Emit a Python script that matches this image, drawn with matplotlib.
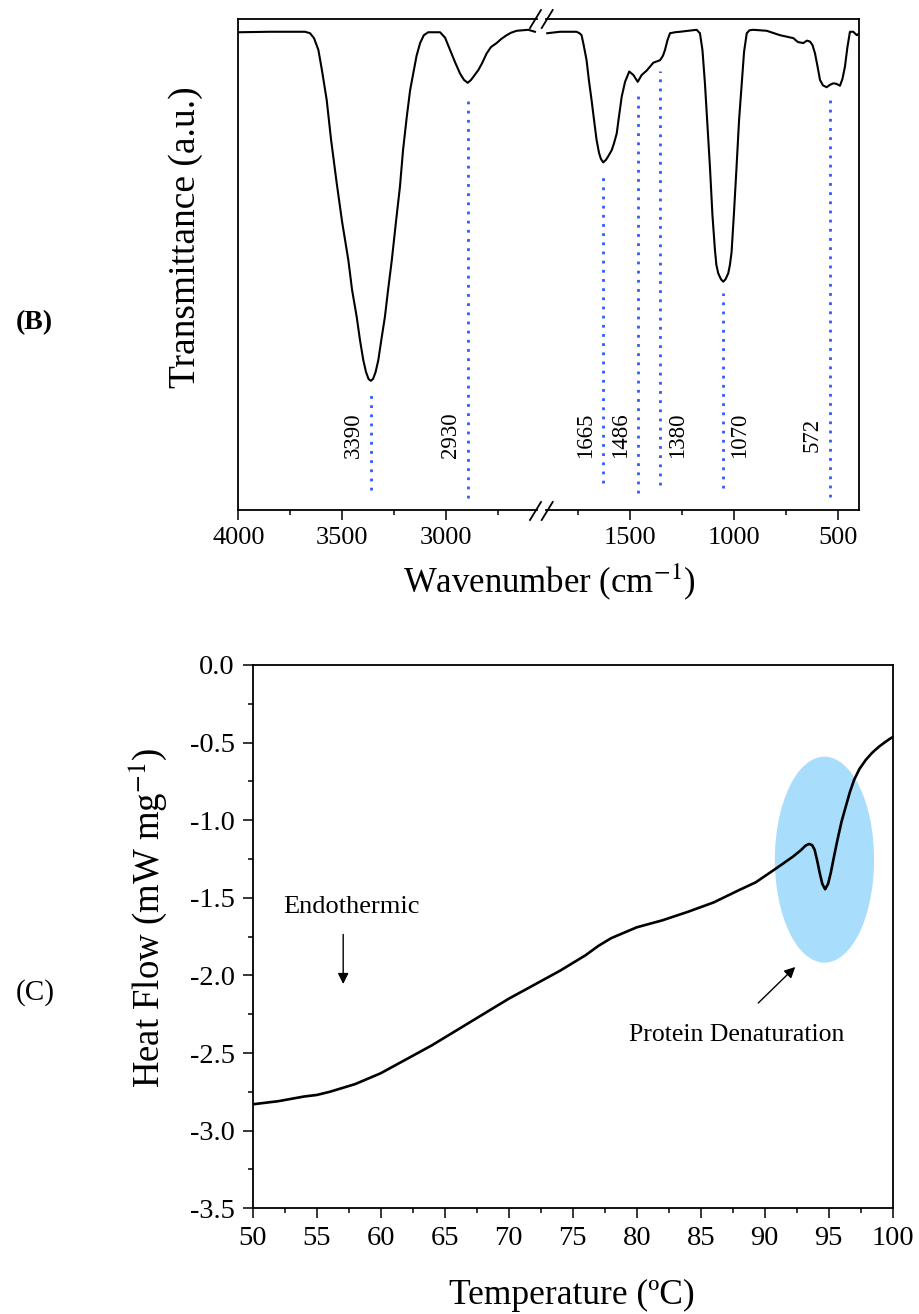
import matplotlib
matplotlib.use('Agg')
import matplotlib.pyplot as plt
from matplotlib.patches import Ellipse
from matplotlib.lines import Line2D
from matplotlib.ticker import MultipleLocator, FormatStrFormatter
import numpy as np

plt.rcParams['font.family'] = ['Liberation Serif', 'DejaVu Serif']
plt.rcParams['mathtext.fontset'] = 'stix'
plt.rcParams['axes.unicode_minus'] = False

# ---- FTIR spectrum (panel B) ----
wavenumber = [4000, 3848, 3703, 3679, 3655, 3636, 3615, 3598, 3575, 3554, 3527, 3501,
              3471, 3453, 3431, 3415, 3399, 3386, 3374, 3363, 3352, 3340, 3327, 3314,
              3295, 3280, 3262, 3242, 3223, 3208, 3190, 3174, 3159, 3143, 3126, 3108,
              3087, 3030, 3006, 2982, 2958, 2934, 2915, 2897, 2881, 2846, 2828, 2806,
              2785, 2758, 2737, 2710, 2689, 2662, 2606, 2574,
              1896, 1835, 1755, 1741, 1731, 1720, 1707, 1696, 1683, 1671, 1659, 1647,
              1638, 1627, 1614, 1602, 1586, 1575, 1562, 1551, 1538, 1522, 1502, 1482,
              1461, 1442, 1418, 1386, 1354, 1340, 1330, 1318, 1306, 1282, 1258, 1178,
              1162, 1150, 1138, 1126, 1114, 1102, 1090, 1083, 1074, 1061, 1050, 1039,
              1026, 1018, 1010, 999, 986, 974, 961, 950, 937, 924, 906, 841, 777, 713,
              691, 665, 648, 633, 621, 609, 597, 585, 571, 553, 537, 521, 506, 489, 477,
              465, 453, 441, 425, 408, 396]
transmittance = [97.3, 97.4, 97.4, 97.4, 97.1, 96.1, 93.7, 89.6, 83.5, 75.4, 66.6, 58.7,
                 50.9, 44.8, 39.4, 34.6, 30.5, 28.1, 26.7, 26.3, 26.7, 28.1, 30.5, 34.2,
                 39.4, 44.8, 50.9, 58.7, 65.8, 73.3, 80.1, 85.5, 88.9, 92.5, 95.1, 96.7,
                 97.3, 97.3, 96.2, 93.7, 91.2, 88.9, 87.6, 87.0, 87.6, 89.6, 91.0, 93.0,
                 94.3, 95.1, 95.9, 96.7, 97.2, 97.6, 97.8, 97.4,
                 97.1, 97.4, 97.4, 97.1, 96.7, 94.5, 91.6, 87.6, 83.5, 79.4, 75.4, 72.7,
                 71.5, 70.8, 71.3, 72.1, 73.3, 74.7, 76.7, 80.2, 84.2, 87.2, 89.3, 88.6,
                 87.2, 88.6, 89.5, 91.1, 91.6, 92.5, 93.7, 95.7, 97.1, 97.3, 97.4, 97.8,
                 97.1, 93.7, 86.9, 78.4, 69.9, 60.1, 53.0, 49.9, 48.2, 47.0, 46.5, 47.0,
                 48.2, 49.9, 52.5, 60.1, 69.9, 79.4, 86.9, 93.3, 97.1, 97.7, 97.8, 97.6,
                 96.7, 96.1, 95.3, 95.1, 95.6, 95.4, 94.7, 93.0, 90.4, 87.6, 86.5, 86.1,
                 86.6, 86.9, 86.8, 86.4, 87.8, 90.3, 94.3, 97.4, 97.4, 96.7, 97.1]

peak_labels = ['3390', '2930', '1665', '1486', '1380', '1070', '572']
peak_pos = [3363, 2897, 1627, 1461, 1354, 1053, 538]
peak_top = [23.4, 84.2, 68.9, 85.2, 89.4, 44.2, 84.5]
peak_bottom = [4.1, 2.4, 5.5, 3.5, 5.1, 4.5, 2.7]
label_side = [-1, -1, -1, -1, 1, 1, -1]

# ---- DSC curve (panel C) ----
temperature = [50, 52, 54, 55, 56, 58, 60, 62, 64, 66, 68, 70, 72, 74, 76, 77, 78, 80,
               82, 84, 86, 88, 89.3, 90.9, 92.2, 92.8, 93.2, 93.47, 93.7, 93.9, 94.1,
               94.3, 94.5, 94.72, 94.95, 95.16, 95.4, 95.68, 96.0, 96.33, 96.65, 96.98,
               97.4, 97.89, 98.4, 98.93, 99.4, 99.84, 100]
heat_flow = [-2.83, -2.81, -2.78, -2.77, -2.75, -2.70, -2.63, -2.54, -2.45, -2.35, -2.25,
             -2.15, -2.06, -1.97, -1.87, -1.81, -1.76, -1.69, -1.645, -1.59, -1.53, -1.45,
             -1.40, -1.31, -1.235, -1.195, -1.163, -1.153, -1.16, -1.19, -1.26, -1.34,
             -1.41, -1.445, -1.41, -1.34, -1.24, -1.128, -1.01, -0.913, -0.82, -0.741,
             -0.67, -0.612, -0.565, -0.526, -0.497, -0.472, -0.465]

W, H = 920, 1314
fig = plt.figure(figsize=(W / 100, H / 100), dpi=100)


def fx(px):
    return px / W


def fy(py):
    return 1 - py / H


wn = np.array(wavenumber)
tr = np.array(transmittance)

ax1 = fig.add_axes([fx(238.3), fy(510), fx(537) - fx(238.3), fy(19) - fy(510)])
ax2 = fig.add_axes([fx(546), fy(510), fx(859.3) - fx(546), fy(19) - fy(510)])

left = wn > 2200
ax1.plot(wn[left], tr[left], color='black', lw=1.5)
ax2.plot(wn[~left], tr[~left], color='black', lw=1.5)
ax1.set_xlim(4000, 2564)
ax2.set_xlim(1902, 396)

for ax in (ax1, ax2):
    ax.set_ylim(0, 100)
    ax.set_yticks([])
    ax.tick_params(axis='x', which='major', direction='out', length=7, width=1.1,
                   labelsize=19, pad=5)
    ax.tick_params(axis='x', which='minor', direction='out', length=3.5, width=1.1)
    ax.xaxis.set_major_locator(MultipleLocator(500))
    ax.xaxis.set_minor_locator(MultipleLocator(250))
    for s in ax.spines.values():
        s.set_linewidth(1.3)
ax1.spines['right'].set_visible(False)
ax2.spines['left'].set_visible(False)

for lab, pos, top, bot, side in zip(peak_labels, peak_pos, peak_top, peak_bottom, label_side):
    ax = ax1 if pos > 2200 else ax2
    ax.vlines(pos, bot, top, colors='#2e5cff', linestyles=(0, (1, 2.3)), lw=2)
    ax.annotate(lab, (pos, 15.3), xytext=(side * 12.5, 0), textcoords='offset points',
                rotation=90, ha='center', va='center', fontsize=16.5)

# axis break marks
for y0 in (28, 520):
    for x0 in (530, 541.7):
        fig.add_artist(Line2D([fx(x0), fx(x0 + 11)], [fy(y0), fy(y0 - 18)],
                              color='black', lw=1.3))

fig.text(fx(549), fy(582), 'Wavenumber (cm$^{-1}$)', ha='center', va='center', fontsize=25)
fig.text(fx(186), fy(237), 'Transmittance (a.u.)', ha='center', va='center',
         rotation=90, fontsize=27)
fig.text(fx(34.5), fy(323), '(B)', ha='center', va='center', fontsize=20, fontweight='bold')

# ---- panel C ----
ax3 = fig.add_axes([fx(252.7), fy(1208.3), fx(892.7) - fx(252.7), fy(665) - fy(1208.3)])
ax3.add_patch(Ellipse((94.67, -1.254), 7.75, 1.327, color='#a9ddfc', lw=0, zorder=1))
ax3.plot(temperature, heat_flow, color='black', lw=1.9, zorder=3)
ax3.set_xlim(50, 100)
ax3.set_ylim(-3.5, 0)
ax3.xaxis.set_major_locator(MultipleLocator(5))
ax3.xaxis.set_minor_locator(MultipleLocator(2.5))
ax3.yaxis.set_major_locator(MultipleLocator(0.5))
ax3.yaxis.set_minor_locator(MultipleLocator(0.25))
ax3.yaxis.set_major_formatter(FormatStrFormatter('%.1f'))
ax3.tick_params(which='major', direction='out', length=7, width=1.1, labelsize=20.5, pad=6)
ax3.tick_params(which='minor', direction='out', length=3.5, width=1.1)
for s in ax3.spines.values():
    s.set_linewidth(1.3)

ax3.text(57.72, -1.557, 'Endothermic', ha='center', va='center', fontsize=19)
ax3.annotate('', xy=(57.07, -2.073), xytext=(57.07, -1.718),
             arrowprops=dict(arrowstyle='-|>', color='black', lw=1, mutation_scale=16))
ax3.text(87.82, -2.384, 'Protein Denaturation', ha='center', va='center', fontsize=18.5)
ax3.annotate('', xy=(92.54, -1.933), xytext=(89.34, -2.19),
             arrowprops=dict(arrowstyle='-|>', color='black', lw=1, mutation_scale=16))

fig.text(fx(572), fy(1295), 'Temperature (ºC)', ha='center', va='center', fontsize=25.5)
fig.text(fx(148), fy(918), 'Heat Flow (mW mg$^{-1}$)', ha='center', va='center',
         rotation=90, fontsize=26.5)
fig.text(fx(35), fy(993), '(C)', ha='center', va='center', fontsize=21)

fig.savefig('out.png', dpi=100)
